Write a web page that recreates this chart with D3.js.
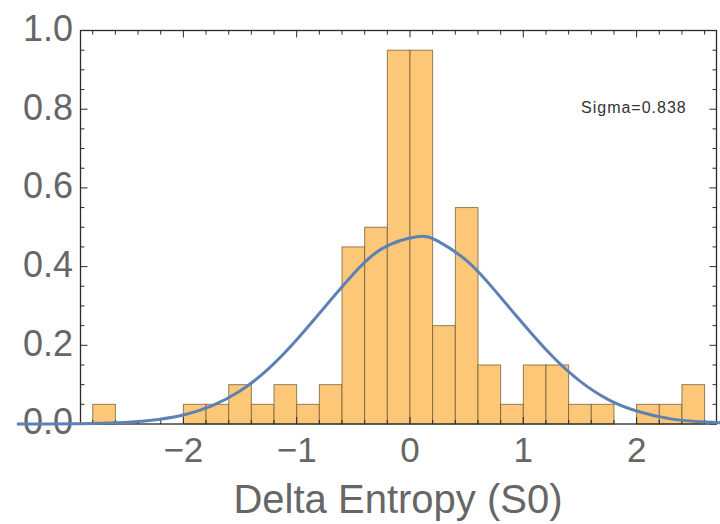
<!DOCTYPE html>
<html><head><meta charset="utf-8">
<script src="https://cdn.jsdelivr.net/npm/d3@7/dist/d3.min.js"></script>
<style>body{margin:0;background:#fff}svg{display:block}</style>
</head><body>
<svg id="c" width="720" height="524"></svg>
<script>
// Histogram bins (left edge, width 0.2) and density heights
const binStarts = [-2.8,-2.6,-2.4,-2.2,-2.0,-1.8,-1.6,-1.4,-1.2,-1.0,-0.8,-0.6,-0.4,-0.2,0,0.2,0.4,0.6,0.8,1.0,1.2,1.4,1.6,1.8,2.0,2.2,2.4];
const densities = [0.05,0,0,0,0.05,0.05,0.1,0.05,0.1,0.05,0.1,0.45,0.5,0.95,0.95,0.25,0.55,0.15,0.05,0.15,0.15,0.05,0.05,0,0.05,0.05,0.1];
const binWidth = 0.2;
// Fitted curve, points
const curveX = [-3.47,-3.2,-2.9,-2.6,-2.3,-2.0,-1.75,-1.5,-1.25,-1.0,-0.75,-0.5,-0.25,0.06,0.25,0.5,0.75,1.0,1.25,1.5,1.75,2.0,2.3,2.6,2.9];
const curveY = [0.0001,0.0002,0.0009,0.0031,0.009,0.023,0.046,0.084,0.140,0.214,0.298,0.381,0.445,0.476,0.464,0.415,0.339,0.254,0.174,0.109,0.062,0.033,0.013,0.005,0.0015];
const xTicks = [-2,-1,0,1,2];
const yTicks = [0,0.2,0.4,0.6,0.8,1.0];
const xLabel = "Delta Entropy (S0)";
const note = "Sigma=0.838";

const svg = d3.select("#c");
const L=80.5, R=716.5, T=30.5, B=424;
const x = d3.scaleLinear().domain([-2.908,2.705]).range([L,R]);
const y = d3.scaleLinear().domain([0,1]).range([B,T]);

// bars
const bins = binStarts.map((s,i)=>({s, d:densities[i]})).filter(b=>b.d>0);
svg.append("g").selectAll("rect").data(bins).join("rect")
  .attr("x", b=>x(b.s)).attr("width", b=>x(b.s+binWidth)-x(b.s))
  .attr("y", b=>y(b.d)).attr("height", b=>y(0)-y(b.d))
  .attr("fill","#fcc877").attr("stroke","#6e5a3a").attr("stroke-opacity",0.75).attr("stroke-width",1);

// frame
const fc="#2a2a2a";
svg.append("rect").attr("x",L).attr("y",T).attr("width",R-L).attr("height",B-T)
  .attr("fill","none").attr("stroke",fc).attr("stroke-width",1.3);

// ticks
const tg = svg.append("g").attr("stroke",fc).attr("stroke-width",1);
const yMinor = d3.range(0,1.0001,0.05);
yMinor.forEach(v=>{
  const major = Math.abs(v*5-Math.round(v*5))<1e-6;
  const len = major?7:4;
  tg.append("line").attr("x1",L).attr("x2",L+len).attr("y1",y(v)).attr("y2",y(v));
  tg.append("line").attr("x1",R).attr("x2",R-len).attr("y1",y(v)).attr("y2",y(v));
});
const xMinor = d3.range(-2.8,2.7,0.2);
xMinor.forEach(v=>{
  const major = Math.abs(v-Math.round(v))<1e-6;
  const len = major?7:4;
  tg.append("line").attr("x1",x(v)).attr("x2",x(v)).attr("y1",T).attr("y2",T+len);
  tg.append("line").attr("x1",x(v)).attr("x2",x(v)).attr("y1",B).attr("y2",B-len);
});

// tick labels
const font = "'Liberation Sans', Arial, sans-serif";
svg.append("g").selectAll("text").data(yTicks).join("text")
  .attr("x",73).attr("y",v=>y(v)).attr("dy","0.29em").attr("text-anchor","end")
  .attr("font-family",font).attr("font-size",36).attr("fill","#666")
  .text(v=>d3.format(".1f")(v));
svg.append("g").selectAll("text").data(xTicks).join("text")
  .attr("x",v=>x(v)).attr("y",462).attr("text-anchor","middle")
  .attr("font-family",font).attr("font-size",35).attr("fill","#666")
  .text(v=>v<0?"\u2212"+Math.abs(v):String(v));

// axis label
svg.append("text").attr("x",398).attr("y",513).attr("text-anchor","middle")
  .attr("font-family",font).attr("font-size",40).attr("fill","#666").text(xLabel);

// note
svg.append("text").attr("x",581).attr("y",113)
  .attr("font-family",font).attr("font-size",16).attr("letter-spacing",1).attr("fill","#333").text(note);

// curve
const line = d3.line().x((d,i)=>x(curveX[i])).y((d,i)=>y(curveY[i])).curve(d3.curveNatural);
svg.append("path").datum(curveY).attr("d",line).attr("fill","none")
  .attr("stroke","#5e81b5").attr("stroke-width",3);
</script>
</body></html>
